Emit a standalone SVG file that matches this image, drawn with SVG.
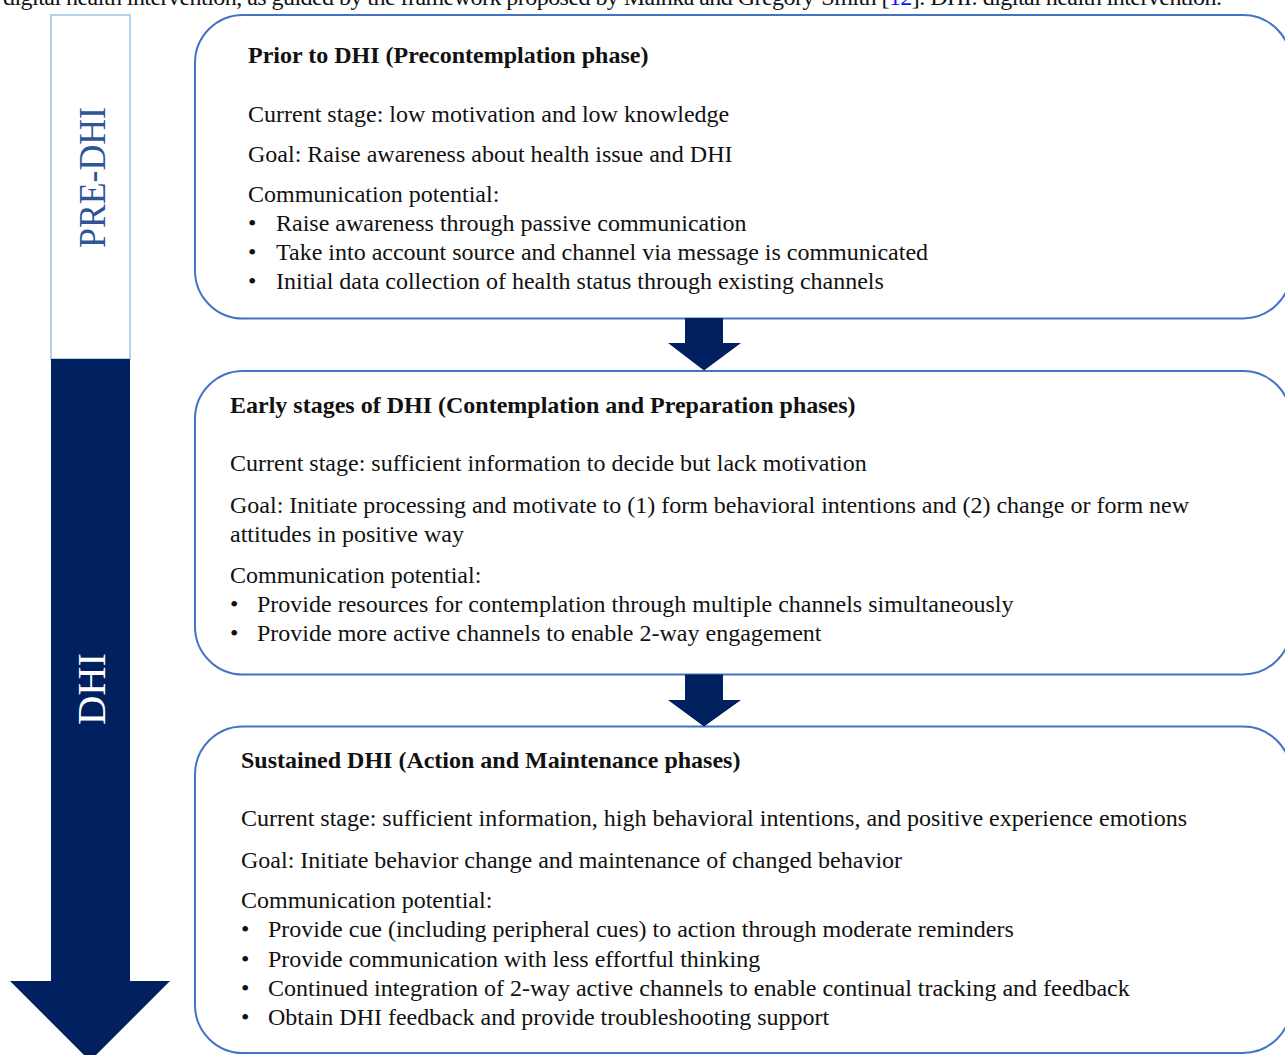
<svg xmlns="http://www.w3.org/2000/svg" width="1285" height="1055" viewBox="0 0 1285 1055">
<style>
  .t { font-family: "Liberation Serif", "Times New Roman", serif; font-size: 24px; fill: #111; }
  .b { font-weight: bold; }
  .box { fill: #fff; stroke: #4472c4; stroke-width: 2; }
  .navy { fill: #002060; }
</style>
<rect x="0" y="0" width="1285" height="1055" fill="#fff"/>

<g id="caption">
  <text class="t" x="3" y="5" textLength="1219" lengthAdjust="spacing">digital health intervention, as guided by the framework proposed by Mainka and Gregory-Smith [<tspan fill="#1a0dff">12</tspan>]. DHI: digital health intervention.</text>
</g>

<g id="timeline">
  <rect x="51" y="15" width="79" height="344" fill="#fff" stroke="#9dc3e6" stroke-width="1.5"/>
  <path class="navy" d="M51,359 H130 V981 H170 L90,1061 L10,981 H51 Z"/>
  <text class="t" transform="translate(105,248) rotate(-90)" style="font-size:38px;fill:#2f5597" textLength="141" lengthAdjust="spacingAndGlyphs">PRE-DHI</text>
  <text class="t" transform="translate(105,725) rotate(-90)" style="font-size:40px;fill:#fff" textLength="72" lengthAdjust="spacingAndGlyphs">DHI</text>
</g>

<g id="node-prior">
  <rect class="box" x="195" y="15" width="1096" height="303.5" rx="48" ry="48"/>
  <text class="t b" x="248" y="63">Prior to DHI (Precontemplation phase)</text>
  <text class="t" x="248" y="122">Current stage: low motivation and low knowledge</text>
  <text class="t" x="248" y="162">Goal: Raise awareness about health issue and DHI</text>
  <text class="t" x="248" y="202">Communication potential:</text>
  <text class="t" x="248" y="231">•</text><text class="t" x="276" y="231">Raise awareness through passive communication</text>
  <text class="t" x="248" y="260">•</text><text class="t" x="276" y="260">Take into account source and channel via message is communicated</text>
  <text class="t" x="248" y="289">•</text><text class="t" x="276" y="289">Initial data collection of health status through existing channels</text>
</g>

<g id="node-early">
  <rect class="box" x="195" y="371" width="1096" height="303.5" rx="48" ry="48"/>
  <text class="t b" x="230" y="413">Early stages of DHI (Contemplation and Preparation phases)</text>
  <text class="t" x="230" y="471">Current stage: sufficient information to decide but lack motivation</text>
  <text class="t" x="230" y="513">Goal: Initiate processing and motivate to (1) form behavioral intentions and (2) change or form new</text>
  <text class="t" x="230" y="542">attitudes in positive way</text>
  <text class="t" x="230" y="583">Communication potential:</text>
  <text class="t" x="230" y="612">•</text><text class="t" x="257" y="612">Provide resources for contemplation through multiple channels simultaneously</text>
  <text class="t" x="230" y="641">•</text><text class="t" x="257" y="641">Provide more active channels to enable 2-way engagement</text>
</g>

<g id="node-sustained">
  <rect class="box" x="195" y="726.5" width="1096" height="326.5" rx="48" ry="48"/>
  <text class="t b" x="241" y="768">Sustained DHI (Action and Maintenance phases)</text>
  <text class="t" x="241" y="826">Current stage: sufficient information, high behavioral intentions, and positive experience emotions</text>
  <text class="t" x="241" y="868">Goal: Initiate behavior change and maintenance of changed behavior</text>
  <text class="t" x="241" y="908">Communication potential:</text>
  <text class="t" x="241" y="937">•</text><text class="t" x="268" y="937">Provide cue (including peripheral cues) to action through moderate reminders</text>
  <text class="t" x="241" y="967">•</text><text class="t" x="268" y="967">Provide communication with less effortful thinking</text>
  <text class="t" x="241" y="996">•</text><text class="t" x="268" y="996">Continued integration of 2-way active channels to enable continual tracking and feedback</text>
  <text class="t" x="241" y="1025">•</text><text class="t" x="268" y="1025">Obtain DHI feedback and provide troubleshooting support</text>
</g>

<g id="connectors">
  <path class="navy" d="M685,318 H723 V343 H741 L704,370.5 L668,343 H685 Z"/>
  <path class="navy" d="M685,674.5 H723 V700 H741 L704,726.5 L668,700 H685 Z"/>
</g>
</svg>
